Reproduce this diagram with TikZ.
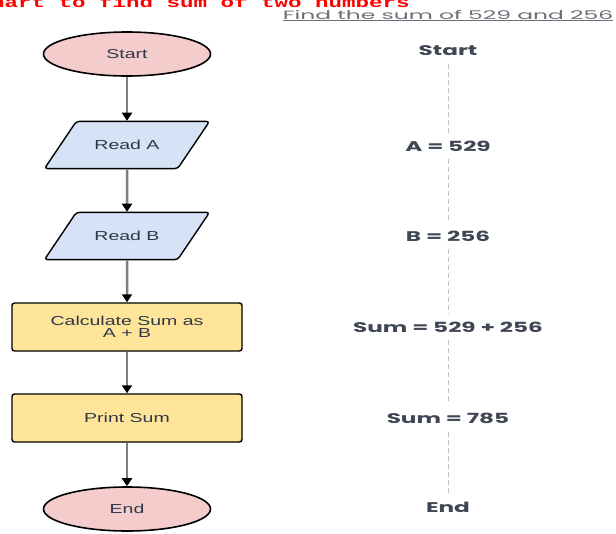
\documentclass[tikz,border=0pt]{standalone}
\usepackage{fontspec}
\usepackage{graphicx}
\setmainfont{Liberation Sans}
\newfontfamily\gothic{Poppins}
\newfontfamily\typewr{Liberation Mono}
\usetikzlibrary{arrows.meta}
\usetikzlibrary{shapes.geometric}
\definecolor{termpink}{HTML}{F4CCCC}
\definecolor{readblue}{HTML}{D6E2F5}
\definecolor{procyellow}{HTML}{FFE599}
\definecolor{inktext}{HTML}{2E3848}
\definecolor{slate}{HTML}{3F4654}
\definecolor{notegray}{HTML}{6B6F78}
\newcommand{\wide}[1]{\scalebox{1.5}[1]{#1}}
\newcommand{\wider}[1]{\scalebox{1.65}[1]{#1}}

\begin{document}
\begin{tikzpicture}[x=1pt,y=-1pt,
    term/.style={ellipse, draw=black, line width=1.6pt, fill=termpink, minimum width=167pt, minimum height=44pt, inner sep=0pt, text=inktext, font=\fontsize{13}{15}\selectfont},
    io/.style={trapezium, trapezium left angle=56, trapezium right angle=124, trapezium stretches body=true, draw=black, line width=1.4pt, rounded corners=3pt, fill=readblue, inner ysep=18.8pt, inner xsep=10pt, minimum width=165pt, text=inktext, font=\fontsize{13}{15}\selectfont},
    proc/.style={rectangle, draw=black, line width=1.4pt, rounded corners=2.5pt, fill=procyellow, minimum width=230pt, minimum height=48pt, inner sep=0pt, text=inktext, font=\fontsize{13}{12}\selectfont, align=center},
    flow/.style={draw=black!50, line width=2.5pt, -{Triangle[color=black, width=10pt, length=8pt]}},
    trace/.style={font=\gothic\bfseries\fontsize{14}{16}\selectfont, text=slate, inner sep=8pt},
    dashline/.style={draw=black!25, line width=1pt, dash pattern=on 5pt off 3pt}]
    \useasboundingbox (0,0) rectangle (616,533);

    % Titles
    \node[anchor=base east, text=red, font=\typewr\bfseries\fontsize{15}{17}\selectfont, inner sep=0pt] (title) at (410,7) {\wide{Flowchart to find sum of two numbers}};
    \node[anchor=base, text=notegray, font=\gothic\fontsize{12}{14}\selectfont, inner sep=0pt] (task) at (448,19) {\scalebox{1.95}[1]{\underline{Find the sum of 529 and 256}}};

    % Flowchart
    \node[term] (f0) at (127,54) {\wide{Start}};
    \node[io] (f1) at (127,145) {\wide{Read A}};
    \node[io] (f2) at (127,236) {\wide{Read B}};
    \node[proc] (f3) at (127,327) {\wide{Calculate Sum as}\\\wide{A + B}};
    \node[proc] (f4) at (127,418) {\wide{Print Sum}};
    \node[term] (f5) at (127,509) {\wide{End}};

    \draw[flow] (f0) -- (f1);
    \draw[flow] (f1) -- (f2);
    \draw[flow] (f2) -- (f3);
    \draw[flow] (f3) -- (f4);
    \draw[flow] (f4) -- (f5);

    % Trace with values
    \node[trace] (t0) at (448,51) {\wider{Start}};
    \node[trace] (t1) at (448,146) {\wider{A = 529}};
    \node[trace] (t2) at (448,236) {\wider{B = 256}};
    \node[trace] (t3) at (448,327) {\wider{Sum = 529 + 256}};
    \node[trace] (t4) at (448,418) {\wider{Sum = 785}};
    \node[trace] (t5) at (448,507) {\wider{End}};

    \draw[dashline] (t0) -- (t1);
    \draw[dashline] (t1) -- (t2);
    \draw[dashline] (t2) -- (t3);
    \draw[dashline] (t3) -- (t4);
    \draw[dashline] (t4) -- (t5);
\end{tikzpicture}
\end{document}
